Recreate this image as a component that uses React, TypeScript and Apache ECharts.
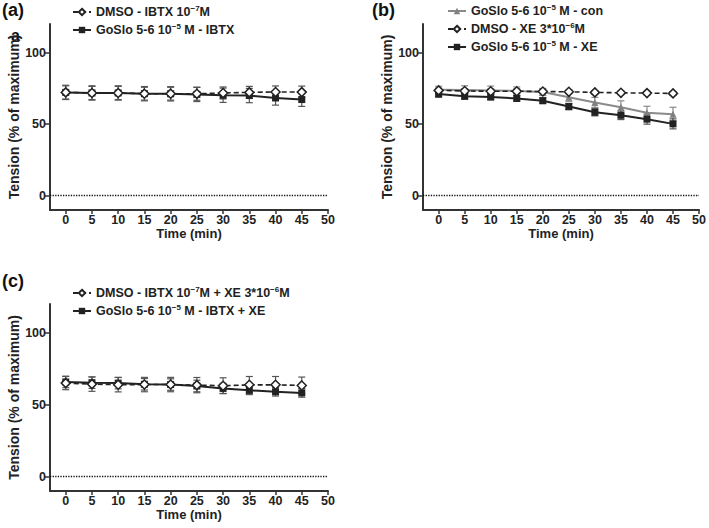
import React, { useEffect, useRef } from "react";
import * as echarts from "echarts";

const times = [0, 5, 10, 15, 20, 25, 30, 35, 40, 45];
const xTicks = [0, 5, 10, 15, 20, 25, 30, 35, 40, 45, 50];
const yTicks = [0, 50, 100];

// Panel (a)
const aDmso = [72.2, 71.8, 71.8, 71.3, 71.3, 71.2, 71.8, 72.2, 72.5, 72.4];
const aDmsoErr = [4.6, 4.6, 4.6, 4.5, 4.5, 4.5, 4.2, 4.2, 4.2, 4.2];
const aGoslo = [72.2, 71.8, 71.8, 71.3, 71.2, 70.8, 70.2, 70.0, 68.3, 67.2];
const aGosloErr = [5, 5, 5, 5, 5, 5, 5, 5, 5, 4.8];

// Panel (b)
const bCon = [74.0, 73.8, 73.6, 73.2, 72.5, 68.8, 65.2, 61.8, 58.0, 57.0];
const bConErr = [2.5, 3, 3, 2.8, 2.5, 2.8, 3.5, 4.5, 4.5, 4.8];
const bDmso = [73.6, 73.2, 73.0, 73.0, 72.8, 72.6, 72.2, 71.9, 71.7, 71.5];
const bDmsoErr = [1.5, 1.5, 1.5, 1.5, 1.5, 1.2, 1.2, 1.2, 1.2, 1.2];
const bGoslo = [71.0, 69.5, 69.0, 68.0, 66.4, 62.3, 58.3, 56.2, 53.5, 50.2];
const bGosloErr = [2, 2, 2, 2, 2, 2.2, 2.5, 3, 3.5, 3.5];

// Panel (c)
const cDmso = [65.0, 64.3, 63.9, 64.0, 64.0, 63.6, 63.2, 63.8, 63.8, 63.4];
const cDmsoErr = [4.6, 5, 5, 5, 5, 5.3, 5.5, 5.8, 5.8, 5.8];
const cGoslo = [65.8, 65.3, 65.0, 64.2, 64.0, 63.0, 61.3, 60.0, 59.0, 58.2];
const cGosloErr = [4, 4, 4, 4, 4, 4, 3.5, 3, 3, 3];

const names = {
  aD: "DMSO - IBTX 10−7M",
  aG: "GoSlo 5-6 10−5 M - IBTX",
  bC: "GoSlo 5-6 10−5 M - con",
  bD: "DMSO - XE 3*10−6M",
  bG: "GoSlo 5-6 10−5 M - XE",
  cD: "DMSO - IBTX 10−7M + XE 3*10−6M",
  cG: "GoSlo 5-6 10−5 M - IBTX + XE",
};

const richNames: Record<string, string> = {
  [names.aD]: "DMSO - IBTX 10{sup|−7}M",
  [names.aG]: "GoSlo 5-6 10{sup|−5} M - IBTX",
  [names.bC]: "GoSlo 5-6 10{sup|−5} M - con",
  [names.bD]: "DMSO - XE 3*10{sup|−6}M",
  [names.bG]: "GoSlo 5-6 10{sup|−5} M - XE",
  [names.cD]: "DMSO - IBTX 10{sup|−7}M + XE 3*10{sup|−6}M",
  [names.cG]: "GoSlo 5-6 10{sup|−5} M - IBTX + XE",
};

const FONT = "'Liberation Sans', Arial, sans-serif";
const AX = "#333";
const TXT = "#222";

function App() {
  const ref = useRef<HTMLDivElement>(null);
  useEffect(() => {
    if (!ref.current) return;
    const chart = echarts.init(ref.current, null, { renderer: "svg" });

    const grids = [
      { left: 50, top: 24, width: 278, height: 186 },
      { left: 423, top: 24, width: 278, height: 186 },
      { left: 50, top: 304, width: 278, height: 187 },
    ];

    const mkX = (i: number) => ({
      type: "value",
      gridIndex: i,
      min: -3,
      max: 50,
      name: "Time (min)",
      nameLocation: "middle",
      nameGap: 14,
      nameTextStyle: { fontFamily: FONT, fontWeight: "bold", fontSize: 13, color: TXT },
      splitLine: { show: false },
      axisLine: { show: true, onZero: false, lineStyle: { color: AX, width: 2 } },
      axisTick: { show: true, length: 4, lineStyle: { color: AX, width: 1.5 }, customValues: xTicks },
      axisLabel: {
        fontFamily: FONT, fontWeight: "bold", fontSize: 12.5, color: TXT, margin: 3,
        customValues: xTicks,
      },
    });
    const mkY = (i: number) => ({
      type: "value",
      gridIndex: i,
      min: -10,
      max: 120,
      name: "Tension (% of maximum)",
      nameLocation: "middle",
      nameGap: 23,
      nameTextStyle: { fontFamily: FONT, fontWeight: "bold", fontSize: 14, color: TXT },
      splitLine: { show: false },
      axisLine: { show: true, onZero: false, lineStyle: { color: AX, width: 2 } },
      axisTick: { show: true, length: 5, lineStyle: { color: AX, width: 1.5 }, customValues: yTicks },
      axisLabel: {
        fontFamily: FONT, fontWeight: "bold", fontSize: 12.5, color: TXT, margin: 4,
        customValues: yTicks,
      },
    });

    const pts = (v: number[]) => times.map((t, i) => [t, v[i]]);
    const errs = (v: number[], e: number[]) => times.map((t, i) => [t, v[i] - e[i], v[i] + e[i]]);

    const errSeries = (gi: number, v: number[], e: number[], color: string) => ({
      type: "custom",
      xAxisIndex: gi,
      yAxisIndex: gi,
      z: 1,
      silent: true,
      encode: { x: 0, y: [1, 2] },
      data: errs(v, e),
      renderItem: (params: any, api: any) => {
        const x = api.value(0);
        const top = api.coord([x, api.value(2)]);
        const bot = api.coord([x, api.value(1)]);
        const w = 3.5;
        const style = { stroke: color, lineWidth: 1.2 };
        return {
          type: "group",
          children: [
            { type: "line", shape: { x1: top[0], y1: top[1], x2: bot[0], y2: bot[1] }, style },
            { type: "line", shape: { x1: top[0] - w, y1: top[1], x2: top[0] + w, y2: top[1] }, style },
            { type: "line", shape: { x1: bot[0] - w, y1: bot[1], x2: bot[0] + w, y2: bot[1] }, style },
          ],
        };
      },
    });

    const zeroLine = {
      silent: true,
      symbol: "none",
      label: { show: false },
      lineStyle: { type: "dotted", color: "#111", width: 1.3 },
      data: [{ yAxis: 0 }],
    };

    const dmsoSeries = (gi: number, name: string, v: number[], withZero: boolean) => ({
      type: "line",
      name,
      xAxisIndex: gi,
      yAxisIndex: gi,
      z: 3,
      data: pts(v),
      symbol: "diamond",
      symbolSize: 9,
      itemStyle: { color: "#fff", borderColor: "#222", borderWidth: 1.5 },
      lineStyle: { color: "#222", width: 1.6, type: [5, 3] },
      markLine: withZero ? zeroLine : undefined,
    });
    const gosloSeries = (gi: number, name: string, v: number[]) => ({
      type: "line",
      name,
      xAxisIndex: gi,
      yAxisIndex: gi,
      z: 2,
      data: pts(v),
      symbol: "rect",
      symbolSize: 7,
      itemStyle: { color: "#222" },
      lineStyle: { color: "#222", width: 2, type: "solid" },
    });
    const conSeries = (gi: number, name: string, v: number[]) => ({
      type: "line",
      name,
      xAxisIndex: gi,
      yAxisIndex: gi,
      z: 2,
      data: pts(v),
      symbol: "triangle",
      symbolSize: 7,
      itemStyle: { color: "#808080" },
      lineStyle: { color: "#8a8a8a", width: 2 },
    });

    const legendBase = {
      orient: "vertical",
      itemWidth: 18,
      itemHeight: 8,
      itemGap: 3,
      padding: 0,
      formatter: (n: string) => richNames[n] || n,
      textStyle: {
        fontFamily: FONT, fontWeight: "bold", fontSize: 12.5, color: TXT, lineHeight: 14,
        rich: {
          sup: { fontFamily: FONT, fontWeight: "bold", fontSize: 8, color: TXT, padding: [0, 0, 8, 0] },
        },
      },
    };

    const labelText = (text: string, x: number, y: number, size: number) => ({
      type: "text",
      left: x,
      top: y,
      style: { text, fontFamily: FONT, fontWeight: "bold", fontSize: size, fill: "#111" },
    });

    chart.setOption({
      animation: false,
      backgroundColor: "#fff",
      grid: grids,
      xAxis: [mkX(0), mkX(1), mkX(2)],
      yAxis: [mkY(0), mkY(1), mkY(2)],
      legend: [
        { ...legendBase, left: 72, top: 4, data: [names.aD, names.aG] },
        { ...legendBase, left: 447, top: 3, data: [names.bC, names.bD, names.bG] },
        { ...legendBase, left: 72, top: 285, data: [names.cD, names.cG] },
      ],
      graphic: [
        labelText("(a)", 2, 1, 18),
        labelText("(b)", 372, 1, 18),
        labelText("(c)", 2, 272, 18),
        labelText("a", 11, 27, 16),
      ],
      series: [
        errSeries(0, aGoslo, aGosloErr, "#555"),
        errSeries(0, aDmso, aDmsoErr, "#555"),
        gosloSeries(0, names.aG, aGoslo),
        dmsoSeries(0, names.aD, aDmso, true),

        errSeries(1, bCon, bConErr, "#888"),
        errSeries(1, bDmso, bDmsoErr, "#555"),
        errSeries(1, bGoslo, bGosloErr, "#555"),
        conSeries(1, names.bC, bCon),
        dmsoSeries(1, names.bD, bDmso, true),
        gosloSeries(1, names.bG, bGoslo),

        errSeries(2, cGoslo, cGosloErr, "#555"),
        errSeries(2, cDmso, cDmsoErr, "#555"),
        gosloSeries(2, names.cG, cGoslo),
        dmsoSeries(2, names.cD, cDmso, true),
      ],
    });
    return () => chart.dispose();
  }, []);

  return (
    <div
      ref={ref}
      style={{ position: "fixed", left: 0, top: 0, width: 709, height: 528, background: "#fff" }}
    />
  );
}

export default App;
